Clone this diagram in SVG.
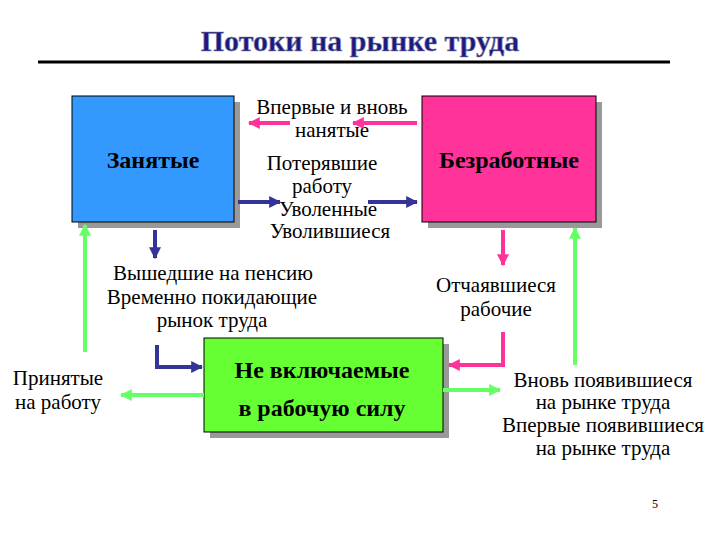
<svg xmlns="http://www.w3.org/2000/svg" width="720" height="540" viewBox="0 0 720 540" font-family="'Liberation Serif','DejaVu Serif','Times New Roman',serif">
<defs>
<marker id="hb" viewBox="0 0 10 10" refX="9" refY="5" markerWidth="3" markerHeight="3" orient="auto"><path d="M0,0L10,5L0,10z" fill="#333399"/></marker>
<marker id="hp" viewBox="0 0 10 10" refX="9" refY="5" markerWidth="3" markerHeight="3" orient="auto"><path d="M0,0L10,5L0,10z" fill="#FF3399"/></marker>
<marker id="hg" viewBox="0 0 10 10" refX="9" refY="5" markerWidth="3" markerHeight="3" orient="auto"><path d="M0,0L10,5L0,10z" fill="#66FF66"/></marker>
</defs>
<style>
text{font-family:'Liberation Serif','DejaVu Serif','Times New Roman',serif;text-anchor:middle;fill:#000}
.t{font-size:21px}
.b{font-size:24px;font-weight:bold}
.sh{fill:#999}
.bl{stroke:#333399;stroke-width:4;fill:none;marker-end:url(#hb)}
.pk{stroke:#FF3399;stroke-width:4;fill:none;marker-end:url(#hp)}
.gr{stroke:#66FF66;stroke-width:4;fill:none;marker-end:url(#hg)}
</style>
<rect width="720" height="540" fill="#fff"/>
<g id="title">
<text x="360" y="51" font-size="30" font-weight="bold" style="fill:#1a1a80;stroke:#8888aa;stroke-width:0.6">Потоки на рынке труда</text>
<line x1="38" y1="62" x2="670" y2="62" stroke="#000" stroke-width="3"/>
</g>
<g id="employed">
<rect x="78" y="102" width="162" height="126" class="sh"/>
<rect x="72" y="96" width="162" height="126" fill="#3399FF" stroke="#000"/>
<text x="153" y="168" class="b">Занятые</text>
</g>
<g id="unemployed">
<rect x="428" y="102" width="174" height="126" class="sh"/>
<rect x="422" y="96" width="174" height="126" fill="#FF3399" stroke="#000"/>
<text x="509" y="168" class="b">Безработные</text>
</g>
<g id="notinlabor">
<rect x="210" y="344" width="239" height="94" class="sh"/>
<rect x="204" y="338" width="239" height="94" fill="#66FF33" stroke="#000"/>
<text x="322" y="378" class="b">Не включаемые</text>
<text x="322" y="416" class="b">в рабочую силу</text>
</g>
<g id="labels">
<text x="332" y="114" class="t">Впервые и вновь</text>
<text x="332" y="137" class="t">нанятые</text>
<text x="322" y="170" class="t">Потерявшие</text>
<text x="322" y="193" class="t">работу</text>
<text x="328" y="216" class="t">Уволенные</text>
<text x="330" y="238" class="t">Уволившиеся</text>
<text x="213" y="280" class="t">Вышедшие на пенсию</text>
<text x="212" y="304" class="t">Временно покидающие</text>
<text x="212" y="327" class="t">рынок труда</text>
<text x="496" y="292" class="t">Отчаявшиеся</text>
<text x="496" y="316" class="t">рабочие</text>
<text x="58" y="385" class="t">Принятые</text>
<text x="58" y="409" class="t">на работу</text>
<text x="603" y="387" class="t">Вновь появившиеся</text>
<text x="603" y="409" class="t">на рынке труда</text>
<text x="603" y="432" class="t">Впервые появившиеся</text>
<text x="603" y="455" class="t">на рынке труда</text>
<text x="655" y="508" font-size="12">5</text>
</g>
<g id="connectors">
<path d="M290,123H249" class="pk"/>
<path d="M417,123H353" class="pk"/>
<path d="M238,202H280" class="bl"/>
<path d="M368,202H417" class="bl"/>
<path d="M155,230V258" class="bl"/>
<path d="M157,345V367H202" class="bl"/>
<path d="M204,395H121" class="gr"/>
<path d="M85,352V225" class="gr"/>
<path d="M503,230V265" class="pk"/>
<path d="M503,332V365H449" class="pk"/>
<path d="M443,390H500" class="gr"/>
<path d="M575,365V228" class="gr"/>
</g>
</svg>
